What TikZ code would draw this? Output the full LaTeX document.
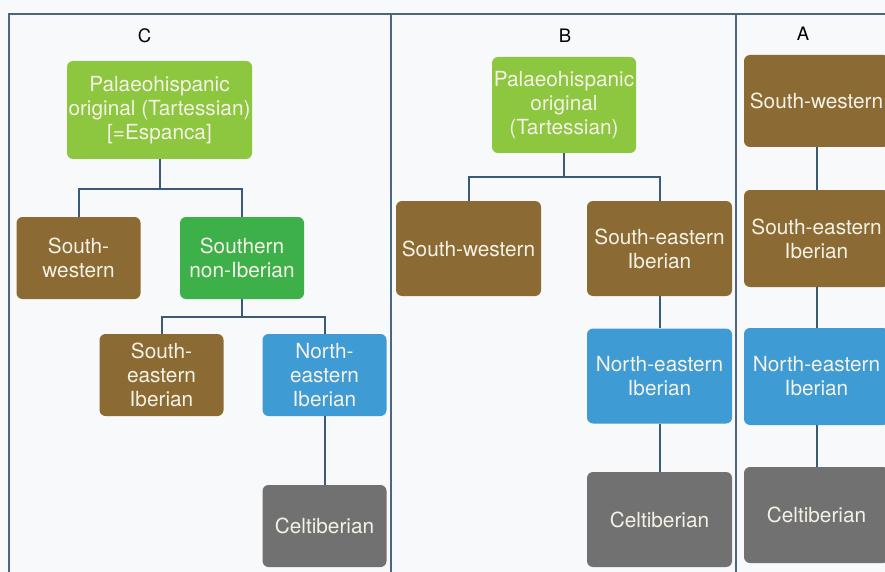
\documentclass[tikz,border=0pt]{standalone}
\usepackage{fontspec}
\setmainfont{TeX Gyre Heros}
\definecolor{paper}{HTML}{F7F9FB}
\definecolor{rule}{HTML}{4C6680}
\definecolor{link}{HTML}{3B5A78}
\definecolor{lime}{HTML}{8DC63F}
\definecolor{grass}{HTML}{3DB04A}
\definecolor{earth}{HTML}{8B6B33}
\definecolor{sky}{HTML}{3F9BD4}
\definecolor{stone}{HTML}{717171}
\definecolor{pale}{HTML}{F4F1E6}
\begin{document}
\begin{tikzpicture}[
	x=1pt,y=-1pt,
	font=\fontsize{20.8}{24}\selectfont,
	box/.style={rectangle,rounded corners=6pt,inner sep=0pt,align=center,text=pale,minimum width=145pt,minimum height=95pt},
	small/.style={box,minimum width=124pt,minimum height=82pt},
	orig/.style={fill=lime},
	sw/.style={fill=earth},
	se/.style={fill=earth},
	south/.style={fill=grass},
	ne/.style={fill=sky},
	celt/.style={fill=stone},
	tag/.style={font=\fontsize{18.5}{21}\selectfont,text=black},
	panel/.style={draw=rule,line width=1.1pt},
	edge/.style={draw=link,line width=2pt},
	]
\useasboundingbox (0,0) rectangle (885,572);
\fill[paper] (0,0) rectangle (885,572);
\draw[panel] (9,572) -- (9,14) -- (885,14);
\draw[panel] (391,14) -- (391,572);
\draw[panel] (736,14) -- (736,572);
\node[tag] (labC) at (144.5,36) {C};
\node[tag] (labB) at (565,36) {B};
\node[tag] (labA) at (803,34) {A};
\node[box,orig,minimum width=185pt,minimum height=98pt] (cTop) at (159.5,110) {Palaeohispanic\\original (Tartessian)\\{[}=Espanca{]}};
\node[small,sw] (cSW) at (78.5,258) {South-\\western};
\node[small,south] (cSN) at (242,258) {Southern\\non-Iberian};
\node[small,se] (cSE) at (161.5,375) {South-\\eastern\\Iberian};
\node[small,ne] (cNE) at (324.5,375) {North-\\eastern\\Iberian};
\node[small,celt] (cCelt) at (324.5,526) {Celtiberian};
\node[box,orig,minimum width=144pt,minimum height=96pt] (bTop) at (564,105) {Palaeohispanic\\original\\(Tartessian)};
\node[box,sw] (bSW) at (468.5,248.5) {South-western};
\node[box,se] (bSE) at (659.5,248.5) {South-eastern\\Iberian};
\node[box,ne] (bNE) at (659.5,376) {North-eastern\\Iberian};
\node[box,celt] (bCelt) at (659.5,519.5) {Celtiberian};
\node[box,sw,minimum height=92pt] (aSW) at (816.5,101) {South-western};
\node[box,se,minimum height=97pt] (aSE) at (816.5,238.5) {South-eastern\\Iberian};
\node[box,ne,minimum height=97pt] (aNE) at (816.5,376.5) {North-eastern\\Iberian};
\node[box,celt,minimum height=96pt] (aCelt) at (816.5,515) {Celtiberian};
\draw[edge] (cTop.south) -- ++(0,29.5) -| (cSW.north);
\draw[edge] (cTop.south) -- ++(0,29.5) -| (cSN.north);
\draw[edge] (cSN.south) -- ++(0,17.5) -| (cSE.north);
\draw[edge] (cSN.south) -- ++(0,17.5) -| (cNE.north);
\draw[edge] (cNE.south) -- (cCelt.north);
\draw[edge] (bTop.south) -- ++(0,24) -| (bSW.north);
\draw[edge] (bTop.south) -- ++(0,24) -| (bSE.north);
\draw[edge] (bSE.south) -- (bNE.north);
\draw[edge] (bNE.south) -- (bCelt.north);
\draw[edge] (aSW.south) -- (aSE.north);
\draw[edge] (aSE.south) -- (aNE.north);
\draw[edge] (aNE.south) -- (aCelt.north);
\end{tikzpicture}
\end{document}
